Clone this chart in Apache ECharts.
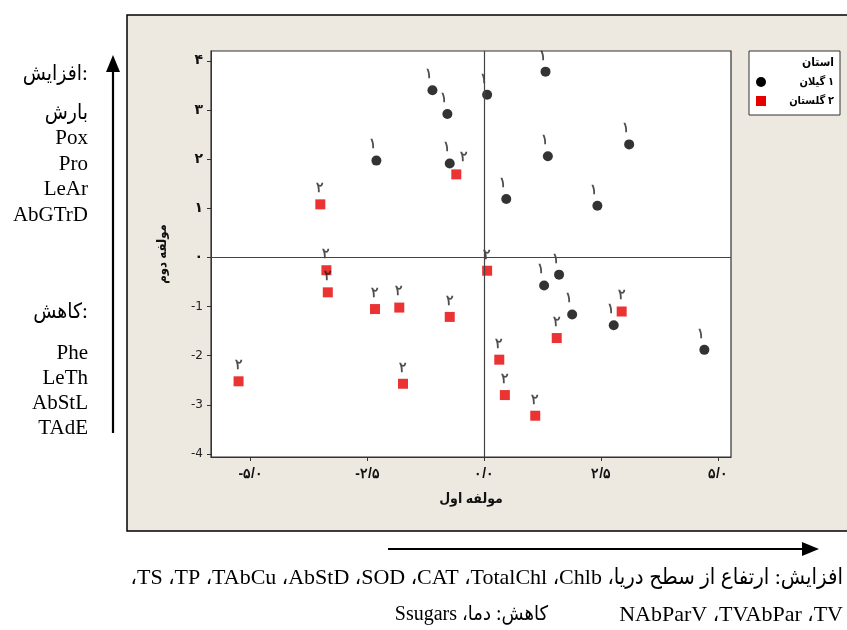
<!DOCTYPE html>
<html>
<head>
<meta charset="utf-8">
<script src="https://cdn.jsdelivr.net/npm/echarts@6/dist/echarts.min.js"></script>
<style>
  html, body { margin: 0; padding: 0; background: #fff; }
  #chart { width: 847px; height: 630px; }
</style>
</head>
<body>
<div id="chart"></div>
<script>
// گروه ۱: گیلان
const gilanX = [-1.11, -0.79, 0.06, -2.31, -0.74, 1.31, 3.10, 1.36, 0.47, 2.42, 1.28, 1.60, 1.88, 2.77, 4.71];
const gilanY = [3.40, 2.92, 3.31, 1.97, 1.91, 3.78, 2.30, 2.06, 1.19, 1.05, -0.57, -0.35, -1.16, -1.38, -1.88];
// گروه ۲: گلستان
const golestanX = [-0.60, -3.51, -3.38, -3.35, -2.34, -1.82, -0.74, -5.26, -1.74, 0.06, 2.94, 1.55, 0.32, 0.44, 1.09];
const golestanY = [1.69, 1.08, -0.26, -0.71, -1.05, -1.02, -1.21, -2.52, -2.57, -0.27, -1.10, -1.64, -2.08, -2.80, -3.22];

const xTicks = [-5, -2.5, 0, 2.5, 5];
const yTicks = [-4, -3, -2, -1, 0, 1, 2, 3, 4];

const groupNames = ['۱ گیلان', '۲ گلستان'];
const leftUp = ['بارش', 'Pox', 'Pro', 'LeAr', 'AbGTrD'];
const leftDown = ['Phe', 'LeTh', 'AbStL', 'TAdE'];
const bottomUp = ['افزایش: ارتفاع از سطح دریا', 'Chlb', 'TotalChl', 'CAT', 'SOD', 'AbStD', 'TAbCu', 'TP', 'TS'];
const bottomUp2 = ['TV', 'TVAbPar', 'NAbParV'];
const bottomDown = ['کاهش: دما', 'Ssugars'];

const RLE = '\u202B', PDF = '\u202C', RLM = '\u200F';
const rtl = (s) => RLE + s + PDF;
const joinFa = (arr) => arr.join(RLM + '، ');
const fa = (s) => String(s).replace(/\d/g, (d) => '۰۱۲۳۴۵۶۷۸۹'[d]);

const serif = '"Liberation Serif", "DejaVu Sans Condensed", serif';
const chart = echarts.init(document.getElementById('chart'));

const gilanData = gilanX.map((x, i) => [x, gilanY[i]]);
const golestanData = golestanX.map((x, i) => {
  const item = { value: [x, golestanY[i]] };
  // برچسب این نقطه در تصویر کمی به راست رفته
  if (i === 0) item.label = { offset: [8, -1] };
  return item;
});

const textEl = (x, y, text, size, align, extra) => ({
  type: 'text', x: x, y: y, z: 5,
  style: Object.assign({
    text: text, fill: '#000', font: size + 'px ' + serif,
    textAlign: align, textVerticalAlign: 'middle'
  }, extra || {})
});

const graphics = [
  { type: 'rect', z: -10, shape: { x: 127, y: 15, width: 740, height: 516 },
    style: { fill: '#EDE9E1', stroke: '#000', lineWidth: 1.5 } },
  // legend box
  { type: 'rect', z: 1, shape: { x: 749, y: 51, width: 91, height: 64 },
    style: { fill: '#fff', stroke: '#333', lineWidth: 1 } },
  textEl(834, 63, rtl('استان'), 12, 'right', { font: 'bold 12px ' + serif }),
  { type: 'circle', z: 2, shape: { cx: 761, cy: 82, r: 5 }, style: { fill: '#000' } },
  { type: 'rect', z: 2, shape: { x: 756, y: 96, width: 10, height: 10 }, style: { fill: '#E60000' } },
  textEl(834, 82, rtl(groupNames[0]), 11, 'right', { font: 'bold 11px ' + serif }),
  textEl(834, 101, rtl(groupNames[1]), 11, 'right', { font: 'bold 11px ' + serif }),
  // arrows
  { type: 'line', shape: { x1: 113, y1: 433, x2: 113, y2: 66 }, style: { stroke: '#000', lineWidth: 2.2 } },
  { type: 'polygon', shape: { points: [[113, 55], [106, 72], [120, 72]] }, style: { fill: '#000' } },
  { type: 'line', shape: { x1: 388, y1: 549, x2: 805, y2: 549 }, style: { stroke: '#000', lineWidth: 2.2 } },
  { type: 'polygon', shape: { points: [[819, 549], [802, 542], [802, 556]] }, style: { fill: '#000' } },
  // colon drawn on its own so it stays on the right of the word
  textEl(82, 74, 'افزایش', 21, 'right'),
  textEl(82, 74, ':', 21, 'left'),
  textEl(82, 312, 'کاهش', 21, 'right'),
  textEl(82, 312, ':', 21, 'left'),
  textEl(843, 578, rtl(joinFa(bottomUp) + RLM + '،'), 22, 'right'),
  textEl(843, 615, rtl(joinFa(bottomUp2)), 22, 'right'),
  textEl(548, 615, rtl(joinFa(bottomDown)), 20, 'right')
];
leftUp.forEach((t, i) => graphics.push(textEl(88, 113 + i * 25.5, t, 21, 'right')));
leftDown.forEach((t, i) => graphics.push(textEl(88, 353 + i * 25, t, 21, 'right')));

const option = {
  backgroundColor: '#fff',
  animation: false,
  graphic: graphics,
  grid: {
    left: 211, top: 51, width: 520, height: 406,
    show: true, backgroundColor: '#fff', borderColor: '#333', borderWidth: 1.2
  },
  xAxis: {
    type: 'value', min: -5.85, max: 5.28,
    name: 'مولفه اول', nameLocation: 'middle', nameGap: 35,
    nameTextStyle: { fontSize: 14, fontWeight: 'bold', color: '#111', fontFamily: serif },
    splitLine: { show: false },
    axisLine: { show: true, onZero: false, lineStyle: { color: '#333' } },
    axisTick: { show: true, length: 4, customValues: xTicks, lineStyle: { color: '#333' } },
    axisLabel: {
      customValues: xTicks, margin: 10, fontSize: 14, fontWeight: 'bold', color: '#111',
      formatter: (v) => (v < 0 ? '-' : '') + fa(Math.abs(v).toFixed(1)).replace('.', '/')
    }
  },
  yAxis: {
    type: 'value', min: -4.06, max: 4.2,
    name: 'مولفه دوم', nameLocation: 'middle', nameGap: 42,
    nameTextStyle: { fontSize: 13, fontWeight: 'bold', color: '#111', fontFamily: serif },
    splitLine: { show: false },
    axisLine: { show: true, onZero: false, lineStyle: { color: '#333' } },
    axisTick: { show: true, length: 4, customValues: yTicks, lineStyle: { color: '#333' } },
    axisLabel: {
      customValues: yTicks, margin: 8, color: '#111',
      formatter: (v) => (v < 0 ? '{n|' + v + '}' : '{p|' + fa(v) + '}'),
      rich: {
        n: { fontSize: 12, fontFamily: '"DejaVu Sans", sans-serif', color: '#222' },
        p: { fontSize: 14, fontWeight: 'bold', fontFamily: '"DejaVu Sans", sans-serif', color: '#111' }
      }
    }
  },
  series: [
    {
      name: groupNames[0], type: 'scatter', symbol: 'circle', symbolSize: 10,
      itemStyle: { color: '#000' },
      label: { show: true, position: 'top', distance: 4, offset: [-3, 0], formatter: '۱',
        fontSize: 14, fontWeight: 'bold', color: '#222' },
      data: gilanData,
      markLine: {
        silent: true, symbol: 'none', label: { show: false },
        lineStyle: { color: '#444', type: 'solid', width: 1.2 },
        data: [{ xAxis: 0 }, { yAxis: 0 }]
      }
    },
    {
      name: groupNames[1], type: 'scatter', symbol: 'rect', symbolSize: 10,
      itemStyle: { color: '#E60000' },
      label: { show: true, position: 'top', distance: 4, formatter: '۲',
        fontSize: 14, fontWeight: 'bold', color: '#222' },
      data: golestanData
    }
  ]
};

chart.setOption(option);
</script>
</body>
</html>
